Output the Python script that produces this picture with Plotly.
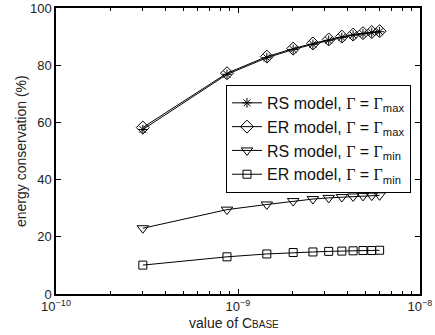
import plotly.graph_objects as go

c_base = [0.3e-9, 0.87e-9, 1.44e-9, 2.01e-9, 2.58e-9, 3.15e-9, 3.72e-9, 4.29e-9, 4.86e-9, 5.43e-9, 6.0e-9]
rs_max = [57.5, 76.8, 82.6, 85.5, 87.3, 88.7, 89.7, 90.5, 91.0, 91.4, 91.7]
er_max = [58.2, 77.2, 83.0, 85.8, 87.6, 89.0, 90.0, 90.7, 91.2, 91.6, 91.9]
rs_min = [23.0, 29.5, 31.3, 32.5, 33.2, 33.6, 33.9, 34.1, 34.3, 34.4, 34.5]
er_min = [10.1, 13.0, 14.0, 14.5, 14.7, 14.9, 15.0, 15.1, 15.2, 15.2, 15.3]

x_tickvals = [1e-10, 1e-9, 1e-8]
x_ticktext = ["10<sup>\u221210</sup>", "10<sup>\u22129</sup>", "10<sup>\u22128</sup>"]
x_minor_tickvals = [2e-10, 3e-10, 4e-10, 5e-10, 6e-10, 7e-10, 8e-10, 9e-10,
                    2e-9, 3e-9, 4e-9, 5e-9, 6e-9, 7e-9, 8e-9, 9e-9]
y_tickvals = [0, 20, 40, 60, 80, 100]

G = '<span style="font-family:Liberation Serif">\u0393</span>'
names = [
    f"RS model, {G} = {G}<sub>max</sub>",
    f"ER model, {G} = {G}<sub>max</sub>",
    f"RS model, {G} = {G}<sub>min</sub>",
    f"ER model, {G} = {G}<sub>min</sub>",
]
series = [rs_max, er_max, rs_min, er_min]
symbols = ["asterisk-open", "diamond-open", "triangle-down-open", "square-open"]
sizes = [8, 10, 10, 8]

fig = go.Figure()
for name, ys, sym, sz in zip(names, series, symbols, sizes):
    fig.add_trace(go.Scatter(
        x=c_base, y=ys, mode="lines+markers", name=name,
        line=dict(color="black", width=1),
        marker=dict(symbol=sym, size=sz, color="black", line=dict(color="black", width=1)),
    ))

axis_common = dict(
    showline=True, linecolor="black", linewidth=1.5, mirror="allticks",
    ticks="inside", tickcolor="black", ticklen=5, showgrid=False, zeroline=False,
    automargin=False,
    tickfont=dict(family="Liberation Sans", size=13, color="#222"),
)

fig.update_xaxes(
    type="log", range=[-10, -8], tickvals=x_tickvals, ticktext=x_ticktext,
    minor=dict(ticks="inside", ticklen=3, tickcolor="black", showgrid=False,
               tickmode="array", tickvals=x_minor_tickvals),
    **axis_common,
)
fig.update_yaxes(
    range=[0, 100], tickvals=y_tickvals,
    **axis_common,
)

fig.add_annotation(
    text='value of C<span style="font-size:10px">BASE</span>',
    xref="paper", yref="paper", x=0.49, y=-0.101, xanchor="center", yanchor="middle",
    showarrow=False, font=dict(family="Liberation Sans", size=14, color="#222"),
)
fig.add_annotation(
    text="energy conservation (%)", textangle=-90,
    xref="paper", yref="paper", x=-0.096, y=0.5, xanchor="center", yanchor="middle",
    showarrow=False, font=dict(family="Liberation Sans", size=14, color="#222"),
)

fig.update_layout(
    width=435, height=335,
    margin=dict(l=56, r=15, t=8, b=41),
    plot_bgcolor="white", paper_bgcolor="white",
    font=dict(family="Liberation Sans", size=13, color="black"),
    legend=dict(
        x=0.467, y=0.731, xanchor="left", yanchor="top",
        bgcolor="white", bordercolor="black", borderwidth=1,
        font=dict(family="Liberation Sans", size=16, color="#111"),
        itemwidth=30, tracegroupgap=0,
    ),
)

fig.write_html(
    "out.html",
    config={"displayModeBar": False},
    post_script="document.body.style.margin='0';document.body.style.padding='0';",
)
